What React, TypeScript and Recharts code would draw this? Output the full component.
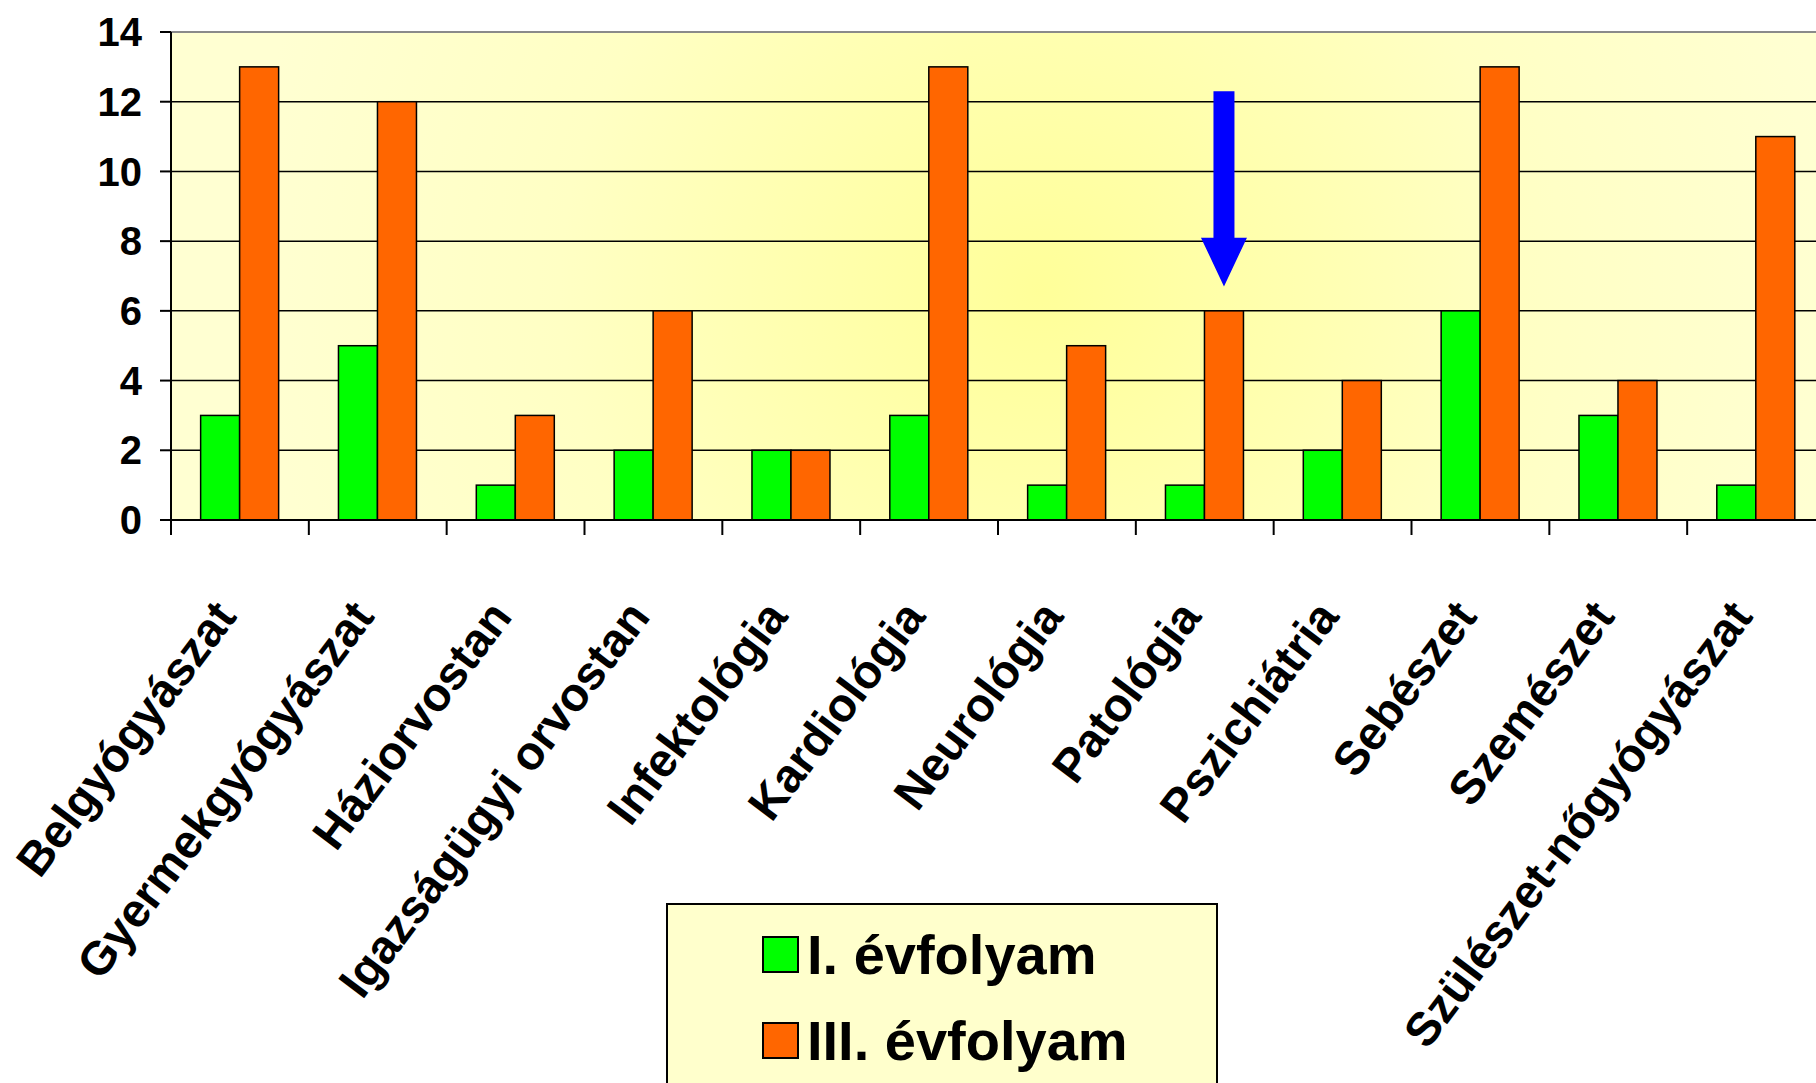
import { Bar, BarChart, CartesianGrid, Legend, ReferenceLine, XAxis, YAxis } from "recharts";

const categories = [
    "Belgyógyászat",
    "Gyermekgyógyászat",
    "Háziorvostan",
    "Igazságügyi orvostan",
    "Infektológia",
    "Kardiológia",
    "Neurológia",
    "Patológia",
    "Pszichiátria",
    "Sebészet",
    "Szemészet",
    "Szülészet-nőgyógyászat",
];
const firstYear = [3, 5, 1, 2, 2, 3, 1, 1, 2, 6, 3, 1];
const thirdYear = [13, 12, 3, 6, 2, 13, 5, 6, 4, 13, 4, 11];
const seriesNames = ["I. évfolyam", "III. évfolyam"];
const seriesColors = ["#00ff00", "#ff6600"];
const yTicks = [0, 2, 4, 6, 8, 10, 12, 14];

// blue arrow pointing at the Patológia bar (values in axis units)
const arrowAt = "Patológia";
const arrowFrom = 12.3;
const arrowHeadBase = 8.1;
const arrowTo = 6.7;

const FONT = "'Liberation Sans', Arial, sans-serif";
const W = 1830;
const H = 1083;
const LEFT = 171;
const RIGHT_MARGIN = 5;
const BAND = (W - LEFT - RIGHT_MARGIN) / categories.length;

const data = categories.map((name, i) => ({
    name,
    first: firstYear[i],
    third: thirdYear[i],
}));

const CategoryTick = ({ x, y, payload }: any) => {
    const half = payload?.offset || BAND / 2;
    return (
        <g>
            <line x1={x - half} y1={y} x2={x - half} y2={y + 15} stroke="#000" strokeWidth={2} />
            <text
                x={0}
                y={0}
                transform={`translate(${x - 2},${y + 97}) rotate(-53)`}
                textAnchor="end"
                fontSize={47}
                fontWeight="bold"
                fontFamily={FONT}
                fill="#000"
            >
                {payload.value}
            </text>
        </g>
    );
};

const makeShape = (color: string, withArrow: boolean) => (props: any) => {
    const { x, y, width, height, payload, value } = props;
    const v = Array.isArray(value) ? value[1] - value[0] : value;
    const rect = <rect x={x} y={y} width={width} height={height} fill={color} stroke="#000" strokeWidth={1.5} />;
    if (!withArrow || payload?.name !== arrowAt || !v) return rect;
    const unit = height / v;
    const cx = x + width / 2;
    const top = y - (arrowFrom - v) * unit;
    const base = y - (arrowHeadBase - v) * unit;
    const tip = y - (arrowTo - v) * unit;
    return (
        <g>
            {rect}
            <polygon
                points={`${cx - 10.5},${top} ${cx + 10.5},${top} ${cx + 10.5},${base} ${cx + 23},${base} ${cx},${tip} ${cx - 23},${base} ${cx - 10.5},${base}`}
                fill="#0000ff"
            />
        </g>
    );
};

const LegendBox = () => (
    <div
        style={{
            background: "#ffffcc",
            border: "2px solid #000",
            boxSizing: "border-box",
            width: 552,
            height: 190,
            padding: "6px 0 0 94px",
            fontFamily: FONT,
            fontWeight: "bold",
            fontSize: 56,
            color: "#000",
        }}
    >
        {seriesNames.map((n, i) => (
            <div key={n} style={{ display: "flex", alignItems: "center", height: 86 }}>
                <span
                    style={{
                        display: "inline-block",
                        width: 33,
                        height: 33,
                        background: seriesColors[i],
                        border: "2px solid #000",
                        marginRight: 8,
                    }}
                />
                <span>{n}</span>
            </div>
        ))}
    </div>
);

export default function App() {
    return (
        <div style={{ position: "fixed", left: 0, top: 0, width: 1816, height: H, overflow: "hidden", background: "#fff" }}>
            <BarChart
                width={W}
                height={H}
                data={data}
                margin={{ top: 32, right: RIGHT_MARGIN, bottom: 0, left: 0 }}
                barCategoryGap="21.5%"
                barGap={0}
            >
                <defs>
                    <radialGradient id="bgGrad" gradientUnits="userSpaceOnUse" cx={1040} cy={290} r={800}>
                        <stop offset="0%" stopColor="#ffff99" />
                        <stop offset="60%" stopColor="#ffffc4" />
                        <stop offset="100%" stopColor="#ffffd2" />
                    </radialGradient>
                </defs>
                <CartesianGrid vertical={false} stroke="#000" strokeWidth={1.5} fill="url(#bgGrad)" fillOpacity={1} />
                <XAxis
                    dataKey="name"
                    interval={0}
                    height={H - 32 - (520 - 32)}
                    tickLine={false}
                    tickSize={0}
                    tickMargin={0}
                    axisLine={{ stroke: "#000", strokeWidth: 2 }}
                    tick={<CategoryTick />}
                />
                <YAxis
                    width={LEFT}
                    domain={[0, 14]}
                    ticks={yTicks}
                    interval={0}
                    tickSize={11}
                    tickMargin={18}
                    axisLine={{ stroke: "#000", strokeWidth: 2 }}
                    tickLine={{ stroke: "#000", strokeWidth: 2 }}
                    tick={{ fontSize: 40, fontWeight: "bold", fill: "#000", fontFamily: FONT }}
                />
                <ReferenceLine y={14} stroke="#8a8a8a" strokeWidth={2} />
                <Legend
                    layout="horizontal"
                    verticalAlign="middle"
                    align="center"
                    content={<LegendBox />}
                    wrapperStyle={{ position: "absolute", left: 666, top: 903, width: 552, height: 190 }}
                />
                <Bar dataKey="first" name={seriesNames[0]} fill={seriesColors[0]} isAnimationActive={false} shape={makeShape(seriesColors[0], false)} />
                <Bar dataKey="third" name={seriesNames[1]} fill={seriesColors[1]} isAnimationActive={false} shape={makeShape(seriesColors[1], true)} />
            </BarChart>
        </div>
    );
}
